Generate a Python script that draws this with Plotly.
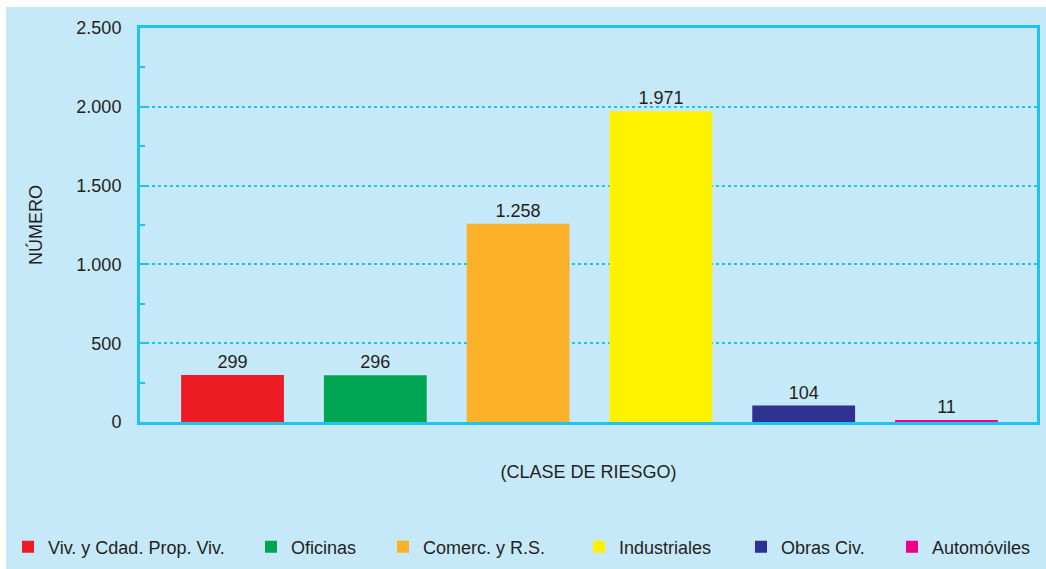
import plotly.graph_objects as go

categories = ["Viv. y Cdad. Prop. Viv.", "Oficinas", "Comerc. y R.S.", "Industriales", "Obras Civ.", "Automóviles"]
values = [299, 296, 1258, 1971, 104, 11]
colors = ["#ed1c24", "#00a651", "#fbb12a", "#fff200", "#2e3192", "#ec008c"]
y_ticks = [0, 500, 1000, 1500, 2000, 2500]
y_title = "NÚMERO"
x_title = "(CLASE DE RIESGO)"

W, H = 1046, 569
L, R, T, B = 140, 9, 28, 147
PW, PH = W - L - R, H - T - B

BG = "#c6e9f9"
CYAN = "#1ec3ef"
TXT = "#231f20"
FONT = "Liberation Sans, Arial, Helvetica, sans-serif"
FS = 18

def px2x(px):
    return (px - L) / PW

def py2y(py):
    return (T + PH - py) / PH

legend_px = [8, 251, 383, 579, 741, 892]

fig = go.Figure()
for i, (c, v, col) in enumerate(zip(categories, values, colors)):
    lg = "legend" if i == 0 else f"legend{i+1}"
    fig.add_trace(go.Bar(
        x=[i], y=[v], name=c, marker=dict(color=col, line=dict(width=0)),
        width=0.72, text=[v], texttemplate="%{y:,.0f}", textposition="outside",
        textfont=dict(size=FS, color=TXT, family=FONT), cliponaxis=False,
        legend=lg, showlegend=True,
    ))

layout_legends = {}
for i, pxl in enumerate(legend_px):
    key = "legend" if i == 0 else f"legend{i+1}"
    layout_legends[key] = dict(
        x=px2x(pxl), xanchor="left", y=py2y(547), yanchor="middle",
        orientation="h", bgcolor="rgba(0,0,0,0)", borderwidth=0,
        font=dict(size=FS, color=TXT, family=FONT),
    )

fig.update_layout(
    width=W, height=H,
    margin=dict(l=L, r=R, t=T, b=B, pad=0, autoexpand=False),
    paper_bgcolor="white", plot_bgcolor=BG,
    separators=",.",
    font=dict(family=FONT, size=FS, color=TXT),
    showlegend=True,
    shapes=[dict(type="rect", xref="paper", yref="paper", layer="below",
                 x0=px2x(6), x1=px2x(W + 5), y0=py2y(H + 5), y1=py2y(7),
                 fillcolor=BG, line=dict(width=0))],
    **layout_legends,
)

fig.update_xaxes(
    range=[-0.648, 5.634], showticklabels=False, ticks="", showgrid=False,
    zeroline=False, showline=True, linecolor=CYAN, linewidth=3, mirror=True,
    title=dict(text=x_title, standoff=42, font=dict(size=FS, color=TXT, family=FONT)),
)
fig.update_yaxes(
    range=[0, 2500], tickvals=y_ticks, tickformat=",.0f",
    showgrid=True, gridcolor=CYAN, gridwidth=2, griddash="dot",
    zeroline=False, showline=True, linecolor=CYAN, linewidth=3, mirror=True,
    ticks="inside", ticklen=7, tickwidth=2, tickcolor=CYAN,
    minor=dict(dtick=250, ticks="inside", ticklen=5, tickwidth=2, tickcolor=CYAN, showgrid=False),
    ticklabelstandoff=12,
    tickfont=dict(size=FS, color=TXT, family=FONT),
    title=dict(text=y_title, standoff=30, font=dict(size=FS, color=TXT, family=FONT)),
)

fig.write_html("out.html", post_script="document.body.style.margin='0';document.body.style.overflow='hidden';",
               config={"displayModeBar": False})
